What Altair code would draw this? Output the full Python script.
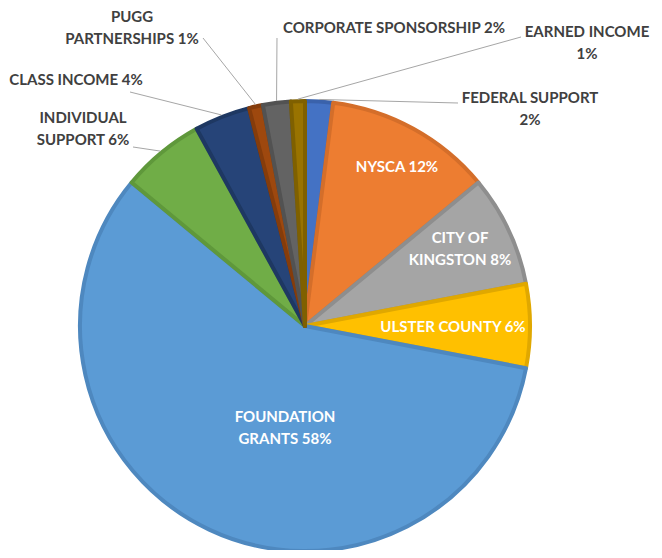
import altair as alt
import pandas as pd

categories = ["FEDERAL SUPPORT", "NYSCA", "CITY OF KINGSTON", "ULSTER COUNTY",
              "FOUNDATION GRANTS", "INDIVIDUAL SUPPORT", "CLASS INCOME",
              "PUGG PARTNERSHIPS", "CORPORATE SPONSORSHIP", "EARNED INCOME"]
values = [2, 12, 8, 6, 58, 6, 4, 1, 2, 1]
labels = ["FEDERAL SUPPORT\n2%", "NYSCA 12%", "CITY OF\nKINGSTON 8%", "ULSTER COUNTY 6%",
          "FOUNDATION\nGRANTS 58%", "INDIVIDUAL\nSUPPORT 6%", "CLASS INCOME 4%",
          "PUGG\nPARTNERSHIPS 1%", "CORPORATE SPONSORSHIP 2%", "EARNED INCOME\n1%"]

# styles
fill_colors = ["#4472C4", "#ED7D31", "#A5A5A5", "#FFC000", "#5B9BD5",
               "#70AD47", "#264478", "#9E480E", "#636363", "#997300"]
edge_colors = ["#3A62AB", "#D46E2A", "#8E8E8E", "#E0A800", "#4E88BF",
               "#5F983B", "#1E3862", "#853C0B", "#525252", "#7F6000"]
inside = [False, True, True, True, True, False, False, False, False, False]

# layout (pixel offsets from the pie centre; first text line for multi-line labels)
label_dx = [225, 92, 155, 148, -20, -222, -229, -173, 89, 282]
label_dy = [-228, -159, -88, 1, 91, -208, -246, -309, -298, -294]
leader_dx = [153, 0, 0, 0, 0, -172, -175, -102, -28, 216]
leader_dy = [-223, 0, 0, 0, 0, -179, -234, -288, -288, -289]

CX, CY, R = 297, 318, 225

df = pd.DataFrame({
    "category": categories, "value": values, "label": labels,
    "order": list(range(len(categories))), "inside": inside,
    "ldx": label_dx, "ldy": label_dy, "edx": leader_dx, "edy": leader_dy,
})

pie = alt.Chart(df).mark_arc(radius=R, strokeWidth=4, strokeJoin="round").encode(
    theta=alt.Theta("value:Q", stack=True),
    order=alt.Order("order:Q"),
    color=alt.Color("category:N", scale=alt.Scale(domain=categories, range=fill_colors), legend=None),
    stroke=alt.Stroke("category:N", scale=alt.Scale(domain=categories, range=edge_colors), legend=None),
    x=alt.value(CX), y=alt.value(CY),
)

calc = alt.Chart(df).transform_joinaggregate(
    total="sum(value)"
).transform_window(
    cum="sum(value)", sort=[alt.SortField("order")], frame=[None, 0]
).transform_calculate(
    sx=f"{CX} + {R + 2} * sin((datum.cum - datum.value / 2) / datum.total * 2 * PI)",
    sy=f"{CY} - {R + 2} * cos((datum.cum - datum.value / 2) / datum.total * 2 * PI)",
    ex=f"{CX} + datum.edx",
    ey=f"{CY} + datum.edy",
    tx=f"{CX} + datum.ldx",
    ty=f"{CY} + datum.ldy",
)

leaders = calc.transform_filter("!datum.inside").mark_rule(color="#A6A6A6", strokeWidth=1).encode(
    x=alt.X("sx:Q", scale=None), y=alt.Y("sy:Q", scale=None),
    x2="ex:Q", y2="ey:Q",
)

font = "Lato"
text_out = calc.transform_filter("!datum.inside").mark_text(
    font=font, fontSize=15, fontWeight="bold", color="#404040", lineBreak="\n",
    lineHeight=22, align="center", baseline="middle",
).encode(x=alt.X("tx:Q", scale=None), y=alt.Y("ty:Q", scale=None), text="label:N")

text_in = calc.transform_filter("datum.inside").mark_text(
    font=font, fontSize=15, fontWeight="bold", color="#FFFFFF", lineBreak="\n",
    lineHeight=22, align="center", baseline="middle",
).encode(x=alt.X("tx:Q", scale=None), y=alt.Y("ty:Q", scale=None), text="label:N")

chart = alt.layer(pie, leaders, text_out, text_in).properties(
    width=646, height=542, padding=0, autosize="none"
).configure_view(stroke=None)

chart.save("out.html", embed_options={"renderer": "svg", "actions": False})
